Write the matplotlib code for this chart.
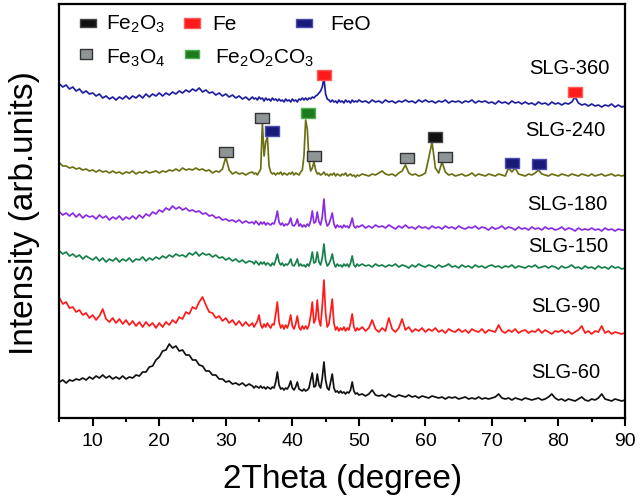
"""XRD patterns of the SLG samples with phase markers."""

import matplotlib

matplotlib.use("Agg")

import matplotlib.pyplot as plt
import numpy as np
from matplotlib.path import Path

plt.rcParams["font.family"] = ["Liberation Sans", "DejaVu Sans"]
plt.rcParams["mathtext.fontset"] = "custom"
plt.rcParams["mathtext.rm"] = "Liberation Sans"
plt.rcParams["mathtext.it"] = "Liberation Sans:italic"
plt.rcParams["mathtext.bf"] = "Liberation Sans:bold"

# 2theta sampling: 0.5 deg steps, 0.25 deg where the sharp peaks sit (34-50)
TWO_THETA = np.round(np.concatenate([
    np.arange(5.0, 34.0, 0.5),
    np.arange(34.0, 50.0, 0.25),
    np.arange(50.0, 90.01, 0.5),
]), 2)

# intensities (arb. units, already stacked with offsets)
SLG_60 = [
    36, 38, 35, 38, 37, 39, 38, 40, 38, 41,
    39, 42, 40, 43, 40, 42, 39, 41, 39, 42,
    39, 41, 40, 43, 42, 46, 46, 51, 52, 58,
    61, 67, 68, 74, 70, 72, 67, 68, 63, 63,
    58, 58, 53, 52, 47, 47, 43, 43, 39, 39,
    36, 37, 34, 35, 33, 35, 32, 34,
    32, 30, 32, 31, 30, 32, 30, 31, 29, 31, 30, 29, 31, 30, 36, 46,
    33, 29, 30, 28, 30, 29, 32, 37, 30, 28, 31, 36, 29, 28, 27, 29,
    27, 28, 30, 38, 45, 31, 32, 44, 33, 30, 40, 56, 38, 30, 28, 36,
    44, 30, 26, 27, 25, 27, 25, 26, 24, 26, 25, 28, 36, 27, 24, 25,
    23, 24, 22, 24, 28, 23, 22, 23, 21, 24,
    22, 21, 23, 22, 21, 23, 21, 22, 20, 22,
    21, 20, 22, 21, 20, 21, 19, 21, 20, 21,
    19, 20, 21, 19, 20, 19, 21, 19, 20, 19,
    20, 21, 24, 20, 19, 20, 18, 20, 19, 18,
    20, 19, 18, 19, 20, 18, 19, 21, 24, 20,
    18, 19, 17, 19, 18, 17, 19, 21, 18, 17,
    19, 18, 20, 24, 19, 18, 17, 19, 18, 17,
    18,
]
SLG_90 = [
    120, 114, 116, 110, 111, 106, 108, 103, 105, 100,
    103, 98, 102, 109, 99, 96, 100, 95, 99, 94,
    98, 93, 97, 92, 96, 91, 96, 92, 95, 90,
    95, 91, 96, 93, 98, 95, 101, 99, 106, 104,
    111, 109, 116, 121, 113, 106, 105, 100, 102, 97,
    100, 95, 98, 93, 97, 92, 96, 92,
    95, 91, 94, 97, 103, 93, 90, 94, 91, 95, 92, 90, 94, 93, 104, 116,
    96, 90, 93, 89, 93, 90, 95, 103, 92, 89, 94, 102, 91, 88, 92, 89,
    92, 89, 93, 102, 116, 95, 99, 118, 98, 92, 112, 138, 105, 91, 94, 106,
    119, 95, 88, 91, 87, 90, 88, 91, 87, 90, 88, 95, 104, 91, 87, 90,
    88, 91, 87, 90, 98, 89, 86, 90, 87, 100,
    89, 86, 90, 99, 88, 91, 86, 89, 87, 90,
    86, 89, 87, 90, 86, 88, 85, 89, 87, 86,
    89, 86, 88, 85, 89, 87, 86, 89, 85, 88,
    87, 86, 93, 87, 85, 88, 86, 89, 85, 87,
    88, 85, 87, 86, 89, 85, 88, 86, 84, 87,
    86, 88, 85, 87, 84, 86, 88, 92, 85, 87,
    84, 87, 86, 92, 85, 87, 84, 86, 85, 84,
    85,
]
SLG_150 = [
    167, 164, 166, 162, 164, 161, 163, 159, 162, 160,
    158, 161, 157, 160, 156, 159, 157, 160, 156, 159,
    157, 160, 156, 159, 158, 161, 157, 160, 158, 161,
    159, 162, 160, 163, 161, 164, 162, 163, 161, 165,
    163, 166, 162, 165, 163, 164, 161, 163, 160, 161,
    158, 160, 157, 159, 156, 158, 155, 157,
    156, 154, 157, 155, 153, 156, 154, 156, 153, 155, 154, 152, 155, 153, 158, 164,
    156, 153, 155, 152, 154, 153, 155, 159, 153, 152, 155, 159, 152, 154, 152, 153,
    151, 154, 152, 157, 166, 155, 156, 166, 156, 153, 160, 174, 158, 152, 154, 158,
    164, 155, 151, 154, 152, 153, 151, 154, 152, 154, 151, 155, 162, 153, 151, 154,
    152, 154, 152, 153, 151, 154, 152, 153, 151, 153,
    152, 154, 151, 153, 152, 150, 153, 151, 154, 152,
    151, 153, 152, 150, 153, 151, 152, 154, 151, 152,
    150, 153, 151, 152, 150, 153, 151, 152, 150, 152,
    153, 151, 152, 150, 152, 151, 153, 150, 152, 151,
    150, 152, 151, 153, 150, 151, 152, 150, 152, 151,
    149, 152, 150, 151, 153, 150, 151, 149, 152, 150,
    151, 149, 152, 150, 151, 149, 152, 150, 151, 149,
    150,
]
SLG_180 = [
    206, 203, 205, 202, 205, 201, 204, 200, 203, 201,
    202, 199, 203, 200, 202, 198, 201, 199, 202, 198,
    201, 199, 202, 199, 203, 200, 204, 202, 206, 204,
    208, 206, 210, 208, 212, 209, 211, 208, 210, 207,
    208, 206, 207, 204, 205, 202, 203, 200, 201, 198,
    199, 197, 198, 196, 198, 195, 197, 195,
    196, 194, 197, 195, 193, 196, 194, 196, 193, 195, 194, 193, 195, 194, 199, 207,
    196, 193, 195, 192, 194, 193, 195, 200, 193, 192, 194, 199, 192, 194, 191, 193,
    191, 194, 192, 197, 207, 195, 196, 206, 196, 193, 201, 219, 198, 192, 194, 199,
    205, 194, 190, 193, 191, 192, 190, 193, 191, 192, 190, 194, 200, 192, 190, 192,
    191, 193, 190, 192, 190, 193, 191, 192, 190, 193,
    191, 189, 192, 190, 193, 190, 191, 189, 192, 190,
    191, 189, 192, 190, 191, 189, 192, 190, 191, 189,
    192, 190, 189, 191, 190, 192, 189, 191, 190, 188,
    191, 189, 190, 192, 189, 191, 190, 188, 191, 189,
    190, 188, 191, 189, 190, 188, 191, 189, 190, 188,
    189, 191, 188, 190, 189, 187, 190, 188, 189, 188,
    190, 188, 189, 187, 190, 188, 189, 187, 189, 188,
    188,
]
SLG_240 = [
    255, 252, 252, 250, 251, 249, 250, 248, 249, 247,
    248, 246, 248, 246, 247, 245, 247, 245, 246, 244,
    246, 245, 247, 244, 246, 245, 247, 245, 246, 247,
    245, 247, 246, 248, 247, 249, 247, 250, 248, 249,
    248, 250, 248, 249, 247, 248, 245, 247, 246, 249,
    261, 248, 244, 246, 244, 245, 243, 245,
    246, 244, 245, 243, 246, 249, 295, 262, 276, 281, 252, 246, 244, 245, 243, 245,
    244, 246, 243, 245, 244, 243, 245, 244, 246, 243, 245, 244, 243, 246, 248, 262,
    298, 289, 258, 247, 250, 256, 248, 244, 245, 243, 244, 246, 243, 244, 242, 244,
    243, 245, 242, 244, 243, 242, 244, 243, 245, 242, 243, 244, 242, 243, 241, 243,
    242, 244, 243, 242, 244, 243, 245, 247, 244, 243,
    244, 242, 245, 247, 253, 245, 243, 244, 242, 243,
    245, 260, 276, 250, 245, 256, 246, 243, 244, 242,
    243, 244, 242, 243, 245, 242, 244, 243, 242, 244,
    243, 242, 244, 243, 242, 250, 246, 250, 244, 243,
    242, 244, 243, 245, 248, 244, 243, 242, 244, 243,
    242, 244, 243, 242, 244, 243, 242, 244, 243, 242,
    244, 242, 243, 244, 242, 243, 244, 242, 243, 242,
    243,
]
SLG_360 = [
    334, 331, 333, 329, 331, 327, 329, 325, 327, 324,
    325, 322, 324, 320, 322, 319, 321, 318, 321, 319,
    322, 319, 322, 320, 323, 320, 324, 321, 324, 322,
    325, 322, 325, 323, 326, 324, 327, 325, 328, 326,
    329, 327, 330, 326, 328, 325, 326, 323, 325, 322,
    324, 321, 323, 320, 322, 319, 321, 318,
    321, 319, 320, 318, 321, 319, 320, 317, 320, 318, 319, 317, 320, 318, 319, 317,
    319, 317, 318, 316, 319, 317, 318, 316, 319, 317, 318, 316, 319, 318, 320, 318,
    320, 318, 320, 319, 321, 320, 322, 323, 325, 327, 331, 340, 324, 319, 318, 316,
    318, 316, 317, 315, 318, 316, 317, 315, 318, 316, 317, 315, 318, 316, 317, 316,
    318, 316, 317, 315, 318, 316, 317, 315, 318, 316,
    317, 315, 317, 316, 318, 316, 317, 315, 318, 316,
    318, 316, 317, 315, 317, 316, 318, 315, 317, 316,
    317, 315, 317, 316, 318, 315, 317, 316, 317, 315,
    316, 314, 317, 315, 316, 314, 317, 315, 316, 314,
    316, 314, 315, 313, 316, 314, 315, 313, 316, 314,
    315, 313, 315, 314, 316, 321, 315, 313, 314, 312,
    314, 312, 313, 311, 313, 312, 314, 311, 313, 311,
    312,
]

SAMPLE_NAMES = ["SLG-60", "SLG-90", "SLG-150", "SLG-180", "SLG-240", "SLG-360"]
SAMPLE_COLORS = ["#111111", "#ff1a1a", "#17804a", "#8a2be2", "#6b7015", "#1f1fa0"]
LABEL_X = [81.1, 81.1, 81.4, 81.4, 81.1, 81.7]
LABEL_Y = [45, 111, 172, 213, 288, 350]

# phase markers above the indexed reflections
PHASES = ["Fe2O3", "Fe3O4", "Fe", "Fe2O2CO3", "FeO"]
PHASE_LABELS = [r"Fe$_2$O$_3$", r"Fe$_3$O$_4$", "Fe", r"Fe$_2$O$_2$CO$_3$", "FeO"]
PHASE_FACE = ["#111111", "#8f9597", "#ff1a1a", "#1e7a1e", "#1a1a78"]
PHASE_EDGE = ["#444444", "#333333", "#ff5a5a", "#4fb04f", "#4a4ab0"]
PEAK_X = [44.7, 82.5, 30.1, 35.5, 36.9, 42.3, 43.2, 57.3, 61.4, 62.9, 73.0, 77.1]
PEAK_Y = [343, 326, 266, 300, 287, 305, 262, 260, 281, 261, 255, 254]
PEAK_PHASE = ["Fe", "Fe", "Fe3O4", "Fe3O4", "FeO", "Fe2O2CO3", "Fe3O4",
              "Fe3O4", "Fe2O3", "Fe3O4", "FeO", "FeO"]

FIG_SIZE = (6.41, 5.0)
FIG_DPI = 100
LINE_WIDTH = 1.25


def rect_marker(aspect):
    """Rectangle marker path, width 1 and height `aspect`."""
    h = aspect / 2.0
    return Path([(-0.5, -h), (0.5, -h), (0.5, h), (-0.5, h), (-0.5, -h)],
                [Path.MOVETO, Path.LINETO, Path.LINETO, Path.LINETO, Path.CLOSEPOLY])


def draw_patterns(ax):
    series = [SLG_60, SLG_90, SLG_150, SLG_180, SLG_240, SLG_360]
    for values, name, color, lx, ly in zip(series, SAMPLE_NAMES, SAMPLE_COLORS, LABEL_X, LABEL_Y):
        if len(values) != len(TWO_THETA):
            raise ValueError(f"{name}: {len(values)} values vs {len(TWO_THETA)} angles")
        ax.plot(TWO_THETA, values, color=color, lw=LINE_WIDTH)
        ax.text(lx, ly, name, fontsize=14.5, ha="center", va="center")


def draw_phase_markers(ax):
    marker = rect_marker(0.64)
    for px, py, phase in zip(PEAK_X, PEAK_Y, PEAK_PHASE):
        i = PHASES.index(phase)
        ax.plot([px], [py], ls="none", marker=marker, ms=10.5,
                mfc=PHASE_FACE[i], mec=PHASE_EDGE[i], mew=1.0)


def draw_legend(ax):
    # Origin-style legend laid out by hand (axes fractions)
    marker_pos = [(0.0504, 0.954), (0.0470, 0.879), (0.234, 0.954), (0.234, 0.879), (0.432, 0.954)]
    text_pos = [(0.0822, 0.937), (0.0822, 0.857), (0.271, 0.937), (0.275, 0.857), (0.478, 0.937)]
    marker_size = [12, 8.5, 11, 10, 11]
    marker_aspect = [0.5, 0.8, 0.6, 0.55, 0.55]
    for i, label in enumerate(PHASE_LABELS):
        ax.plot([marker_pos[i][0]], [marker_pos[i][1]], transform=ax.transAxes,
                ls="none", marker=rect_marker(marker_aspect[i]), ms=marker_size[i],
                mfc=PHASE_FACE[i], mec=PHASE_EDGE[i], mew=1.0, clip_on=False)
        ax.text(text_pos[i][0], text_pos[i][1], label, transform=ax.transAxes,
                fontsize=15, ha="left", va="baseline")


def main():
    fig = plt.figure(figsize=FIG_SIZE, dpi=FIG_DPI)
    ax = fig.add_axes([0.0928, 0.164, 0.8822, 0.828])

    draw_patterns(ax)
    draw_phase_markers(ax)
    draw_legend(ax)

    ax.set_xlim(5, 90)
    ax.set_ylim(0, 414)
    ax.set_xticks(np.arange(10, 91, 10))
    ax.set_xticks(np.arange(5, 90, 10), minor=True)
    ax.set_yticks([])
    ax.tick_params(axis="x", which="major", direction="out", length=6, width=1.5,
                   labelsize=14, pad=5)
    ax.tick_params(axis="x", which="minor", direction="out", length=3, width=1.5)
    for spine in ax.spines.values():
        spine.set_linewidth(1.6)

    ax.set_xlabel("2Theta (degree)", fontsize=24)
    ax.xaxis.label.set_va("center")
    ax.xaxis.set_label_coords(0.5, -0.148)
    ax.set_ylabel("Intensity (arb.units)", fontsize=24)
    ax.yaxis.label.set_va("center")
    ax.yaxis.set_label_coords(-0.061, 0.495)

    fig.savefig("out.png", dpi=FIG_DPI)
    plt.close(fig)


if __name__ == "__main__":
    main()
